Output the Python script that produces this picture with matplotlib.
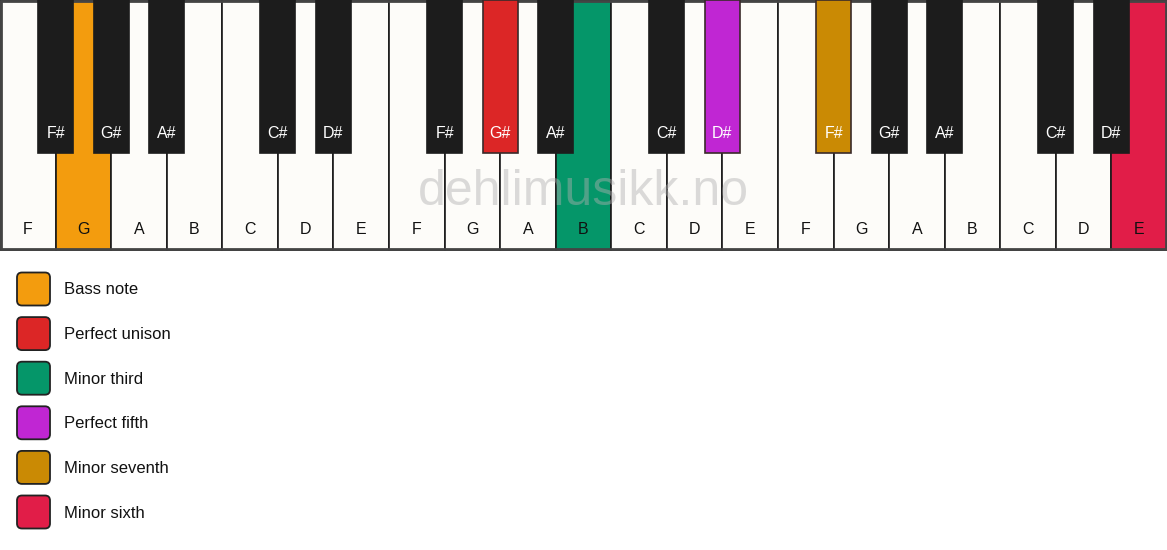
import matplotlib
matplotlib.use("Agg")
import matplotlib.pyplot as plt
from matplotlib.patches import Rectangle, FancyBboxPatch

plt.rcParams['font.family'] = ['Liberation Sans', 'DejaVu Sans']

# ---- data ----
white_keys = ["F", "G", "A", "B", "C", "D", "E"] * 3
black_after = {"F": "F#", "G": "G#", "A": "A#", "C": "C#", "D": "D#"}
# highlighted keys: index -> color
white_highlights = {1: "#F39C0E", 10: "#059669", 20: "#E11D48"}
black_highlights = {6: "#DC2626", 9: "#C026D3", 10: "#CA8A04"}  # index among black keys
legend_labels = ["Bass note", "Perfect unison", "Minor third", "Perfect fifth",
                 "Minor seventh", "Minor sixth"]
legend_colors = ["#F39C0E", "#DC2626", "#059669", "#C026D3", "#CA8A04", "#E11D48"]
watermark = "dehlimusikk.no"

W, H = 1167, 550
fig = plt.figure(figsize=(W / 100, H / 100), dpi=100)
ax = fig.add_axes([0, 0, 1, 1])
ax.set_xlim(0, W)
ax.set_ylim(H, 0)
ax.axis("off")

kb_h = 250
n = len(white_keys)
ww = W / n
bw = 35
bh = 153
white_fill = "#FDFCF9"
black_fill = "#1C1C1C"

for i, note in enumerate(white_keys):
    c = white_highlights.get(i, white_fill)
    ax.add_patch(Rectangle((i * ww, 0), ww, kb_h, facecolor=c, edgecolor="#1a1a1a", lw=1.2, zorder=1))
    ax.text(i * ww + ww / 2, 230, note, ha="center", va="center", fontsize=11.5,
            color="#111111", zorder=5)

ax.add_patch(Rectangle((0.8, 0.8), W - 1.6, kb_h - 1.6, facecolor="none",
                       edgecolor="#444444", lw=2, zorder=2))

bi = 0
for i, note in enumerate(white_keys):
    if note in black_after:
        x = (i + 1) * ww - bw / 2
        c = black_highlights.get(bi, black_fill)
        ec = "#3a2a2a" if bi in black_highlights else black_fill
        ax.add_patch(Rectangle((x, 0), bw, bh, facecolor=c, edgecolor=ec, lw=1.2, zorder=3))
        ax.text(x + bw / 2, 133, black_after[note], ha="center", va="center",
                fontsize=11.5, color="white", zorder=5)
        bi += 1

ax.text(583, 192, watermark, ha="center", va="center", fontsize=36,
        color="#b0b0b0", alpha=0.45, zorder=6)

for k, (lab, col) in enumerate(zip(legend_labels, legend_colors)):
    cy = 289 + k * 44.6
    ax.add_patch(FancyBboxPatch((17 + 5, cy - 16.5 + 5), 33 - 10, 33 - 10,
                                boxstyle="round,pad=5", facecolor=col,
                                edgecolor="#222222", lw=1.3, zorder=3))
    ax.text(64, cy + 1, lab, ha="left", va="center", fontsize=12, color="#111111")

fig.savefig("out.png", dpi=100, facecolor="white")
